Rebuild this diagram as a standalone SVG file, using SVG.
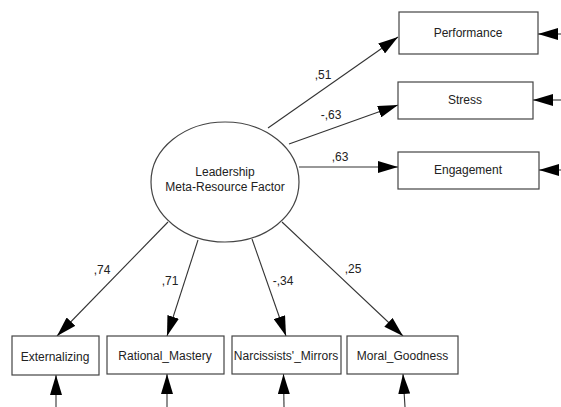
<svg xmlns="http://www.w3.org/2000/svg" width="561" height="407" viewBox="0 0 561 407">
<defs>
<marker id="ah" markerUnits="userSpaceOnUse" markerWidth="20" markerHeight="12" refX="20" refY="6" orient="auto" viewBox="0 0 20 12">
<path d="M0,0 L20,6 L0,12 z" fill="#000"/>
</marker>
<style>
.box{fill:#fff;stroke:#444;stroke-width:1.2}
.lat{fill:#fff;stroke:#444;stroke-width:1.2}
.t{font-family:"Liberation Sans",Arial,sans-serif;font-size:12px;fill:#222;text-anchor:middle;dominant-baseline:central}
.e{stroke:#333;stroke-width:1.1;fill:none;marker-end:url(#ah)}
</style>
</defs>
<rect width="561" height="407" fill="#fff"/>
<g id="connectors">
<line class="e" x1="268" y1="128" x2="398" y2="37"/>
<line class="e" x1="289" y1="144" x2="398" y2="105"/>
<line class="e" x1="299" y1="167" x2="398" y2="167"/>
<line class="e" x1="168" y1="222" x2="57" y2="336"/>
<line class="e" x1="198" y1="240" x2="167" y2="336"/>
<line class="e" x1="252" y1="239" x2="286" y2="336"/>
<line class="e" x1="282" y1="222" x2="403" y2="336"/>
<line class="e" x1="561" y1="34" x2="538" y2="34"/>
<line class="e" x1="561" y1="100" x2="533" y2="100"/>
<line class="e" x1="561" y1="170" x2="539" y2="170"/>
<line class="e" x1="56" y1="407" x2="56" y2="375"/>
<line class="e" x1="167" y1="407" x2="167" y2="374"/>
<line class="e" x1="284" y1="407" x2="283.5" y2="374"/>
<line class="e" x1="405" y1="407" x2="403" y2="374"/>
<text class="t" x="323" y="75">,51</text>
<text class="t" x="331" y="115">-,63</text>
<text class="t" x="340" y="157">,63</text>
<text class="t" x="102" y="270">,74</text>
<text class="t" x="170" y="281">,71</text>
<text class="t" x="283" y="281">-,34</text>
<text class="t" x="353" y="269">,25</text>
</g>
<g id="leadership">
<ellipse class="lat" cx="225" cy="182" rx="74" ry="60"/>
<text class="t" x="225" y="172">Leadership</text>
<text class="t" x="225" y="187">Meta-Resource Factor</text>
</g>
<g id="performance">
<rect class="box" x="399" y="12" width="139" height="42"/>
<text class="t" x="468" y="33">Performance</text>
</g>
<g id="stress">
<rect class="box" x="398" y="82" width="135" height="37"/>
<text class="t" x="465" y="100">Stress</text>
</g>
<g id="engagement">
<rect class="box" x="398" y="152" width="141" height="37"/>
<text class="t" x="468" y="170">Engagement</text>
</g>
<g id="externalizing">
<rect class="box" x="12" y="336" width="87" height="39"/>
<text class="t" x="55" y="357">Externalizing</text>
</g>
<g id="rational_mastery">
<rect class="box" x="107" y="336" width="117" height="38"/>
<text class="t" x="165" y="356">Rational_Mastery</text>
</g>
<g id="narcissists_mirrors">
<rect class="box" x="232" y="336" width="109" height="38"/>
<text class="t" x="286" y="356">Narcissists'_Mirrors</text>
</g>
<g id="moral_goodness">
<rect class="box" x="347" y="336" width="111" height="38"/>
<text class="t" x="402.5" y="356">Moral_Goodness</text>
</g>
</svg>
